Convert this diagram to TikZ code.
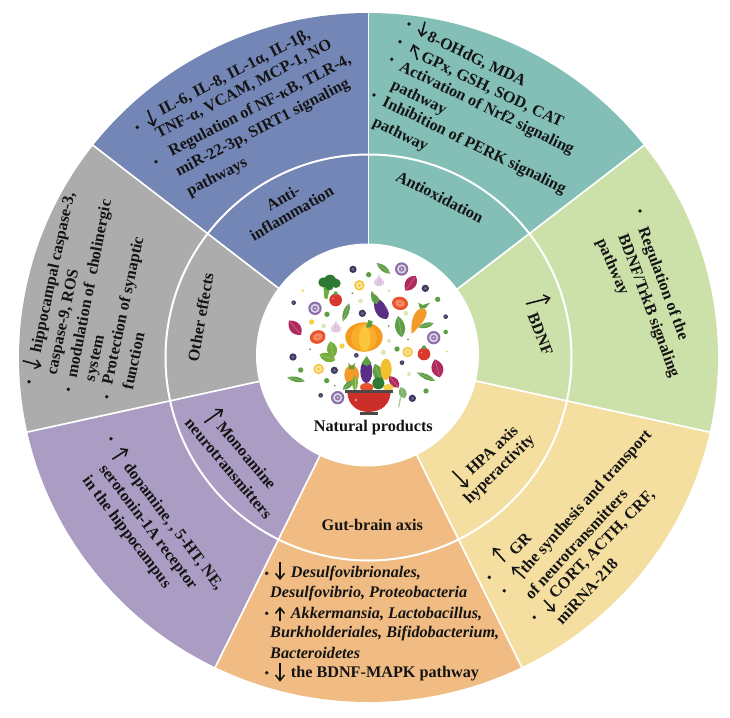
\documentclass[tikz,border=0pt]{standalone}
\usepackage{fontspec}
\setmainfont{Liberation Serif}
\usetikzlibrary{arrows.meta}
\definecolor{cBlue}{HTML}{7486B5}
\definecolor{cTeal}{HTML}{83BFB6}
\definecolor{cGreen}{HTML}{CCE1A9}
\definecolor{cYellow}{HTML}{F4DEA0}
\definecolor{cOrange}{HTML}{F0BC83}
\definecolor{cPurple}{HTML}{AA9CC3}
\definecolor{cGray}{HTML}{ACACAC}
\definecolor{cInk}{HTML}{141414}
\definecolor{vBerry}{HTML}{3C3B5E}
\definecolor{vBerryB}{HTML}{6A6A90}
\definecolor{vGreen}{HTML}{5E9E45}
\definecolor{vDark}{HTML}{2F7A33}
\definecolor{vPale}{HTML}{DDE8B8}
\definecolor{vYel}{HTML}{F6CF4A}
\definecolor{vMag}{HTML}{B02A5E}
\definecolor{vRed}{HTML}{D8382E}
\definecolor{vOr}{HTML}{F39A2A}
\definecolor{vPur}{HTML}{5B2E86}
\definecolor{vGarP}{HTML}{E6CFE6}
\definecolor{vGarL}{HTML}{C9A8CC}
\definecolor{vSl}{HTML}{E8552C}
\definecolor{vSlB}{HTML}{F48B62}
\definecolor{vStem}{HTML}{6BAF3B}
\definecolor{vPkA}{HTML}{F49A1F}
\definecolor{vPkB}{HTML}{F9AE2A}
\definecolor{vPkC}{HTML}{FBC63C}
\definecolor{vCorn}{HTML}{F2BF2E}
\definecolor{vBowl}{HTML}{CC2F2A}
\definecolor{vRim}{HTML}{4A4A4A}
\definecolor{vLet}{HTML}{A9C9A0}
\tikzset{
  txt/.style={font=\bfseries\fontsize{16.2}{18}\selectfont,text=cInk,inner sep=0pt,anchor=west},
  itx/.style={txt,font=\bfseries\itshape\fontsize{16.2}{18}\selectfont},
  sign/.style={draw=cInk,line width=1.6pt,-{Straight Barb[length=5.5pt,width=9pt,line width=1.5pt]}},
  blt/.style={fill=cInk},
  spoke/.style={draw=white,line width=1.7pt},
  ringline/.style={draw=white,line width=2pt}
}
\newcommand\vDot[4]{\fill[#4] (#1,#2) circle[radius=#3];}
\newcommand\vBer[3]{\fill[vBerry] (#1,#2) circle[radius=#3];\fill[vBerryB] (#1,#2) circle[radius=#3*0.45];}
\newcommand\vRingY[2]{\fill[vYel!90!orange] (#1,#2) circle[radius=16];\fill[vYel!50!white] (#1,#2) circle[radius=10];\fill[vYel!90!orange] (#1,#2) circle[radius=5];}
\newcommand\vOnion[2]{\fill[vPur!70!white] (#1,#2) circle[radius=20];\fill[vPur!22!white] (#1,#2) circle[radius=14];\fill[vPur!65!white] (#1,#2) circle[radius=8];\fill[vPur!15!white] (#1,#2) circle[radius=3];}
% lens leaf: x y rot half-length half-width colour
\newcommand\vLeaf[6]{\begin{scope}[shift={(#1,#2)},rotate=#3]
  \fill[#6] (-#4,0) .. controls (-#4*0.4,#5*1.3) and (#4*0.5,#5*1.3) .. (#4,0) .. controls (#4*0.5,-#5*1.3) and (-#4*0.4,-#5*1.3) .. cycle;
  \draw[#6!65!white,line width=0.5pt] (-#4*0.8,0) -- (#4*0.8,0);
\end{scope}}
\newcommand\vGarlic[2]{\begin{scope}[shift={(#1,#2)}]
  \fill[vGarP] (0,-22) .. controls (4,-8) and (18,-6) .. (15,6) .. controls (12,16) and (-12,16) .. (-15,6) .. controls (-18,-6) and (-4,-8) .. cycle;
  \draw[vGarL,line width=0.5pt] (0,-10) -- (-5,12) (3,-8) -- (6,12);
\end{scope}}
\newcommand\vTom[2]{\fill[vRed] (#1,#2) circle[radius=19];\fill[vGreen] (#1,#2-20) circle[radius=6];\fill[white,opacity=.35] (#1-8,#2-4) circle[radius=3];}
\newcommand\vSlice[3]{\begin{scope}[shift={(#1,#2)},rotate=#3]
  \fill[vSl] (0,0) ellipse[x radius=24,y radius=20];\fill[vSlB] (0,0) ellipse[x radius=15,y radius=11];
  \fill[vSl] (0,0) circle[radius=3];
\end{scope}}
\begin{document}
\begin{tikzpicture}[x=1pt,y=-1pt]
\useasboundingbox (0,0) rectangle (730,717);
% sectors
\begin{scope}[shift={(368.5,357.5)},x=1pt,y=1pt]
  \foreach \a/\b/\c in {90/142/cBlue,38/90/cTeal,-12.5/38/cGreen,-64/-12.5/cYellow,-116/-64/cOrange,-167.5/-116/cPurple,142/192.5/cGray}{
    \fill[\c] (0,0) -- (\a:349.5 and 344.5) arc[start angle=\a,end angle=\b,x radius=349.5,y radius=344.5] -- cycle;
  }
  \foreach \a in {90,142,38,-12.5,-64,-116,-167.5}{
    \draw[spoke] (0,0) -- (\a:350.5 and 345.5);
  }
  \draw[ringline] (0,0) ellipse[x radius=203,y radius=203];
\end{scope}
\fill[white] (367.5,355) circle[radius=111.5];

% illustration, in the crop's coordinates
\begin{scope}[shift={(240,230)},x=0.33333pt,y=-0.33333pt]
  \vBer{339}{118}{11}\vBer{556}{175}{11}\vBer{161}{218}{7}\vBer{367}{250}{11}\vBer{617}{260}{7}
  \vBer{159}{381}{11}\vBer{349}{376}{7}\vBer{283}{421}{11}\vBer{486}{398}{7}\vBer{242}{496}{7}\vBer{517}{505}{11}
  \vDot{386}{134}{8}{vGreen}\vDot{593}{208}{8}{vGreen}\vDot{261}{253}{8}{vGreen}\vDot{617}{306}{7}{vGreen}
  \vDot{471}{357}{8}{vGreen}\vDot{182}{420}{8}{vGreen}\vDot{260}{452}{8}{vGreen}\vDot{558}{483}{8}{vGreen}
  \vDot{188}{182}{5}{vYel!70!white}\vDot{447}{182}{5}{vPale}\vDot{362}{213}{7}{vPale}\vDot{215}{276}{8}{vYel}
  \vDot{251}{288}{7}{vPale}\vDot{498}{250}{7}{vPale}\vDot{306}{348}{8}{vYel}\vDot{447}{333}{6}{vPale}
  \vDot{430}{367}{8}{vPale}\vDot{507}{432}{6}{vPale}
  \vDot{337}{190}{3}{vGreen}\vDot{446}{288}{3}{vGreen}\vDot{504}{328}{3}{vGreen}\vDot{621}{365}{3}{vYel}
  \vDot{210}{358}{3}{vGreen}\vDot{284}{467}{3}{vGreen}
  \vRingY{358}{166}\vRingY{503}{366}\vRingY{236}{417}
  \vOnion{485}{117}\vOnion{225}{235}\vOnion{581}{323}\vOnion{293}{503}
  % magenta leaves
  \vLeaf{512}{160}{55}{27}{17}{vMag}\vLeaf{165}{293}{-50}{28}{17}{vMag}\vLeaf{592}{415}{-75}{28}{18}{vMag}
  % pods
  \vLeaf{430}{115}{-38}{26}{9}{vGreen}\vLeaf{318}{247}{70}{29}{9}{vGreen}\vLeaf{168}{448}{-12}{27}{8}{vGreen}\vLeaf{558}{440}{-25}{30}{8}{vGreen}
  \vGarlic{417}{155}\vGarlic{288}{294}
  % broccoli
  \fill[vStem] (250,165) -- (272,165) -- (262,207) -- (253,205) -- cycle;
  \fill[vDark] (250,157) circle[radius=15] (270,152) circle[radius=18] (288,160) circle[radius=14] (268,168) circle[radius=13];
  \vTom{287}{210}\vTom{552}{372}
  \vSlice{480}{220}{-10}\vSlice{233}{321}{20}
  % eggplant
  \begin{scope}[shift={(423,234)},rotate=-62]
    \fill[vPur] (-36,0) .. controls (-20,22) and (25,30) .. (37,0) .. controls (30,-26) and (-20,-16) .. cycle;
    \fill[white,opacity=.25] (8,-15) ellipse[x radius=14,y radius=3];
  \end{scope}
  \fill[vGreen] (395,182) -- (402,192) .. controls (425,205) and (418,215) .. (410,222) .. controls (395,220) and (390,205) .. cycle;
  % carrot
  \fill[vOr] (515,312) .. controls (510,270) and (525,235) .. (548,235) .. controls (572,240) and (560,270) .. cycle;
  \fill[vGreen] (535,218) -- (548,225) -- (570,218) -- (556,235) -- (540,236) -- cycle;
  \vLeaf{558}{286}{15}{24}{8}{vGreen}
  % spinach
  \vLeaf{480}{290}{-80}{32}{15}{vGreen}
  \vLeaf{276}{358}{-80}{24}{16}{vGreen!85!yellow}\vLeaf{262}{382}{-20}{25}{14}{vGreen!85!yellow}
  % pumpkin
  \fill[vPkA] (372,321) ellipse[x radius=56,y radius=44];
  \fill[vPkB] (372,323) ellipse[x radius=38,y radius=42];
  \fill[vPkC] (374,325) ellipse[x radius=17,y radius=38];
  \fill[vGreen] (378,293) -- (385,270) -- (398,274) -- (394,292) -- cycle;
  % bowl contents
  \fill[vOr] (335,435) ellipse[x radius=22,y radius=30];
  \fill[vGreen] (325,398) -- (335,410) -- (345,398) -- (342,418) -- (328,418) -- cycle;
  \fill[vPur] (379,424) ellipse[x radius=18,y radius=35];
  \fill[vGreen] (365,400) -- (380,378) -- (395,400) -- (380,408) -- cycle;
  \vLeaf{415}{430}{-70}{30}{16}{vGreen}
  \fill[vCorn] (438,418) ellipse[x radius=17,y radius=32];
  \vLeaf{462}{456}{-50}{22}{13}{vMag}
  \vLeaf{325}{465}{-140}{22}{9}{vGreen}\vLeaf{345}{460}{90}{24}{9}{vGreen!85!yellow}
  \fill[vSl] (380,472) ellipse[x radius=20,y radius=13];
  \fill[vDark] (415,460) circle[radius=18];
  \fill[vYel] (445,472) ellipse[x radius=16,y radius=10];
  % bowl
  \fill[vBowl] (322,488) .. controls (325,525) and (350,545) .. (385,546) .. controls (425,545) and (448,525) .. (452,488) -- cycle;
  \fill[vRim] (315,481) rectangle (460,490);
  \fill[vRim] (360,546) rectangle (415,554);
  \fill[white,opacity=.5] (347,510) circle[radius=4];
  % lettuce
  \fill[vLet] (480,500) -- (484,500) -- (478,532) -- (474,532) -- cycle;
  \vLeaf{488}{488}{-70}{18}{12}{vGreen!80!white}
\end{scope}
\node[txt,anchor=center] (nat) at (373.3,427.7) {Natural products};

% Anti-inflammation
\node[txt,anchor=center,rotate=30] (ai1) at (283,198) {Anti-};
\node[txt,anchor=center,rotate=30] (ai2) at (291.7,213) {inflammation};
\fill[blt] (137.3,127.3) circle[radius=1.9];
\fill[blt] (156,161.7) circle[radius=1.9];
\draw[sign] (147.7,110) -- (154.3,126.5);
\node[txt,rotate=27.5] (b1) at (160,112) {IL-6, IL-8, IL-1α, IL-1β,};
\node[txt,rotate=27.5] (b2) at (156.7,135) {TNF-α, VCAM, MCP-1, NO};
\node[txt,rotate=27.5] (b3) at (170,153) {Regulation of NF-κB, TLR-4,};
\node[txt,rotate=27.5] (b4) at (177,173) {miR-22-3p, SIRT1 signaling};
\node[txt,rotate=27.5] (b5) at (188,192.7) {pathways};

% Antioxidation
\fill[blt] (409,24) circle[radius=1.9];
\fill[blt] (400,41.7) circle[radius=1.9];
\fill[blt] (391.7,59.3) circle[radius=1.9];
\fill[blt] (374,95) circle[radius=1.9];
\draw[sign] (425,21.7) -- (421,37);
\draw[sign] (417.3,60) -- (413.3,44);
\node[txt,rotate=-25.4] (t1) at (428,36.7) {8-OHdG, MDA};
\node[txt,rotate=-25.4] (t2) at (421.7,56.7) {GPx, GSH, SOD, CAT};
\node[txt,rotate=-26] (t3) at (400,66.7) {Activation of Nrf2 signaling};
\node[txt,rotate=-26] (t4) at (391.7,85) {pathway};
\node[txt,rotate=-26] (t5) at (383,101.7) {Inhibition of PERK signaling};
\node[txt,rotate=-26] (t6) at (373.3,121.7) {pathway};
\node[txt,rotate=-27] (t7) at (397.3,175) {Antioxidation};

% Other effects
\fill[blt] (29,381.7) circle[radius=1.9];
\fill[blt] (68.3,389.3) circle[radius=1.9];
\fill[blt] (106.7,396.7) circle[radius=1.9];
\draw[sign] (22.7,360.7) -- (41.7,366);
\node[txt,rotate=78] (g1) at (36.7,353) {hippocampal caspase-3,};
\node[txt,rotate=78] (g2) at (52.7,375) {caspase-9, ROS};
\node[txt,rotate=79] (g3) at (72.7,378.3) {modulation of\ \ cholinergic};
\node[txt,rotate=78] (g4) at (91.7,381.7) {system};
\node[txt,rotate=78] (g5) at (108.3,385) {Protection of synaptic};
\node[txt,rotate=78] (g6) at (127.3,389.3) {function};
\node[txt,rotate=80] (g7) at (192.7,361.7) {Other effects};

% Monoamine
\fill[blt] (111,438.7) circle[radius=1.9];
\draw[sign] (112.3,459.3) -- (128.3,449);
\node[txt,rotate=-52.8] (p1) at (126,465) {dopamine, , 5-HT, NE,};
\node[txt,rotate=-52.8] (p2) at (101.7,466.7) {serotonin-1A receptor};
\node[txt,rotate=-52.8] (p3) at (85,478.3) {in the hippocampus};
\draw[sign] (204.3,422.7) -- (223.3,409.3);
\node[txt,rotate=-50] (p4) at (220,423.3) {Monoamine};
\node[txt,rotate=-50] (p5) at (188.3,420) {neurotransmitters};

% Gut-brain axis
\node[txt,anchor=center] (o0) at (372.3,525) {Gut-brain axis};
\fill[blt] (266.7,573.3) circle[radius=1.9];
\fill[blt] (266.7,613.3) circle[radius=1.9];
\fill[blt] (266.7,672.7) circle[radius=1.9];
\draw[sign] (280,561.7) -- (280,580);
\draw[sign] (280,620.7) -- (280,606.7);
\draw[sign] (280,663.3) -- (280,681.7);
\node[itx] (o1) at (290.7,574) {Desulfovibrionales,};
\node[itx] (o2) at (270,594) {Desulfovibrio, Proteobacteria};
\node[itx] (o3) at (290.7,614) {Akkermansia, Lactobacillus,};
\node[itx] (o4) at (270,633.3) {Burkholderiales, Bifidobacterium,};
\node[itx] (o5) at (270,653.3) {Bacteroidetes};
\node[txt] (o6) at (290.7,673.3) {the BDNF-MAPK pathway};

% HPA axis
\draw[sign] (505,561.7) -- (492.7,547.7);
\draw[sign] (525,578.3) -- (511.7,566.7);
\draw[sign] (544,600) -- (555,611.7);
\draw[sign] (452.3,471) -- (468.3,487.3);
\fill[blt] (489.3,577.3) circle[radius=1.9];
\fill[blt] (504.3,590.7) circle[radius=1.9];
\fill[blt] (534.3,617.3) circle[radius=1.9];
\node[txt,rotate=47] (y1) at (511.7,553.3) {GR};
\node[txt,rotate=47.8] (y2) at (523.3,571.7) {the synthesis and transport};
\node[txt,rotate=47.3] (y3) at (527.3,596.7) {of neurotransmitters};
\node[txt,rotate=46] (y4) at (552.3,596.7) {CORT, ACTH, CRF,};
\node[txt,rotate=47] (y5) at (558.3,621.7) {miRNA-218};
\node[txt,rotate=43] (y6) at (468.3,471.7) {HPA axis};
\node[txt,rotate=44] (y7) at (466.7,501.7) {hyperactivity};

% BDNF
\fill[blt] (640,211) circle[radius=1.9];
\node[txt,rotate=-69.5] (n1) at (641.7,228.3) {Regulation of the};
\node[txt,rotate=-69.6] (n2) at (621.7,235) {BDNF/TrkB signaling};
\node[txt,rotate=-66] (n3) at (600,240) {pathway};
\draw[sign] (526,304) -- (550.7,297.7);
\node[txt,rotate=-68.7] (n4) at (532.3,313.3) {BDNF};
\end{tikzpicture}
\end{document}
